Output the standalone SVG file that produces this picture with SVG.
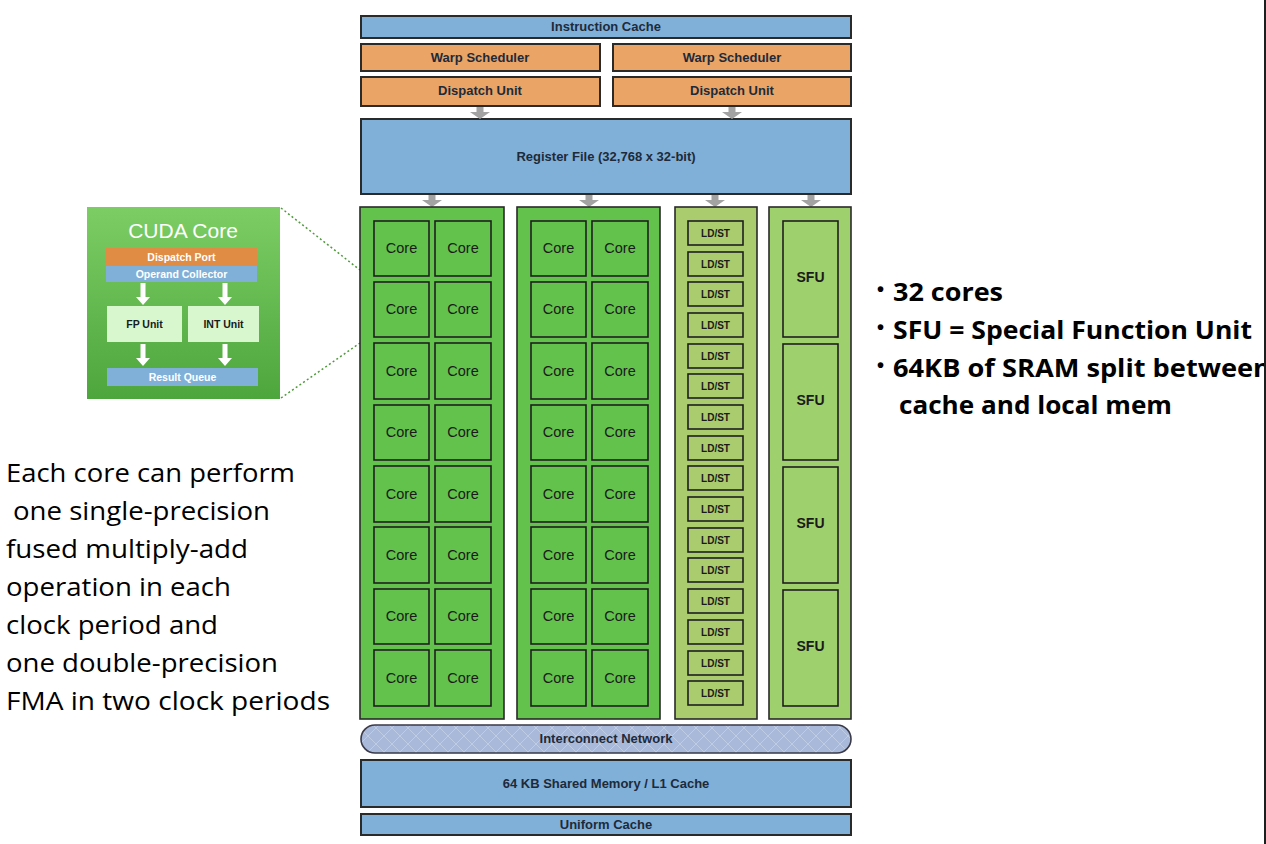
<svg xmlns="http://www.w3.org/2000/svg" width="1266" height="844" viewBox="0 0 1266 844">
<defs>
<style>
.blue{fill:#80b0d8;stroke:#2a2a2a;stroke-width:2}
.orange{fill:#e9a466;stroke:#2a2a2a;stroke-width:2}
.col{fill:#63c24c;stroke:#2a2a2a;stroke-width:1.6}
.core{fill:#63c24c;stroke:#1e1e1e;stroke-width:1.6}
.ldcol{fill:#aacb6e;stroke:#2a2a2a;stroke-width:1.6}
.sfucol{fill:#9fd06e;stroke:#2a2a2a;stroke-width:1.6}
.lbl{font-family:"Liberation Sans",Arial,sans-serif;font-weight:bold;font-size:13px;fill:#1e2a3a;text-anchor:middle}
.ct{font-family:"Liberation Sans",Arial,sans-serif;font-size:14.5px;fill:#1a1a1a;text-anchor:middle}
.ld{font-family:"Liberation Sans",Arial,sans-serif;font-weight:bold;font-size:10px;fill:#1a1a1a;text-anchor:middle}
.sfu{font-family:"Liberation Sans",Arial,sans-serif;font-weight:bold;font-size:14px;fill:#1a1a1a;text-anchor:middle}
.garrow{fill:#a3a3a3}
.warrow{fill:#ffffff}
.note{font-family:"Open Sans","Liberation Sans",sans-serif;font-size:26px;fill:#000}
.bul{font-family:"Open Sans","Liberation Sans",sans-serif;font-weight:bold;font-size:25px;fill:#000}
.dot{font-family:"Liberation Sans",sans-serif;font-weight:bold;font-size:20px;fill:#000}
.inset{font-family:"Liberation Sans",Arial,sans-serif;font-weight:bold;font-size:10.5px;text-anchor:middle}
</style>
<linearGradient id="cudaGrad" x1="0" y1="0" x2="0" y2="1">
<stop offset="0" stop-color="#7ccd64"/>
<stop offset="1" stop-color="#4da63c"/>
</linearGradient>
<pattern id="mesh" width="16" height="16" patternUnits="userSpaceOnUse">
<rect width="16" height="16" fill="#a9b9d9"/>
<path d="M0 0 L16 16 M16 0 L0 16" stroke="#c0cce3" stroke-width="1"/>
</pattern>
<g id="ga">
<polygon points="-3.5,0 3.5,0 3.5,5 10,5 0,12 -10,5 -3.5,5"/>
</g>
<g id="wa">
<polygon points="-2.5,0 2.5,0 2.5,14 7,14 0,22 -7,14 -2.5,14"/>
</g>
</defs>
<rect width="1266" height="844" fill="#ffffff"/>

<g id="instruction-cache">
<rect class="blue" x="361" y="16" width="490" height="22"/>
<text class="lbl" x="606" y="31">Instruction Cache</text>
</g>
<g id="warp-scheduler-1">
<rect class="orange" x="361" y="44" width="239" height="27"/>
<text class="lbl" x="480" y="62">Warp Scheduler</text>
</g>
<g id="warp-scheduler-2">
<rect class="orange" x="613" y="44" width="238" height="27"/>
<text class="lbl" x="732" y="62">Warp Scheduler</text>
</g>
<g id="dispatch-unit-1">
<rect class="orange" x="361" y="77" width="239" height="29"/>
<text class="lbl" x="480" y="95">Dispatch Unit</text>
</g>
<g id="dispatch-unit-2">
<rect class="orange" x="613" y="77" width="238" height="29"/>
<text class="lbl" x="732" y="95">Dispatch Unit</text>
</g>
<g id="register-file">
<rect class="blue" x="361" y="119" width="490" height="75"/>
<text class="lbl" x="606" y="161">Register File (32,768 x 32-bit)</text>
</g>

<g id="connectors">
<use href="#ga" class="garrow" x="480" y="107"/>
<use href="#ga" class="garrow" x="732" y="107"/>
<use href="#ga" class="garrow" x="432" y="195"/>
<use href="#ga" class="garrow" x="589" y="195"/>
<use href="#ga" class="garrow" x="715" y="195"/>
<use href="#ga" class="garrow" x="811" y="195"/>
<line x1="281" y1="208" x2="360" y2="270" stroke="#4f9a3c" stroke-width="1.5" stroke-dasharray="2,2.5"/>
<line x1="281" y1="398" x2="360" y2="343" stroke="#4f9a3c" stroke-width="1.5" stroke-dasharray="2,2.5"/>
</g>

<g id="core-column-1">
<rect class="col" x="360" y="207" width="144" height="512"/>
<rect class="core" x="374" y="221" width="55" height="55"/><rect class="core" x="435" y="221" width="56" height="55"/>
<rect class="core" x="374" y="282" width="55" height="55"/><rect class="core" x="435" y="282" width="56" height="55"/>
<rect class="core" x="374" y="343" width="55" height="56"/><rect class="core" x="435" y="343" width="56" height="56"/>
<rect class="core" x="374" y="405" width="55" height="55"/><rect class="core" x="435" y="405" width="56" height="55"/>
<rect class="core" x="374" y="466" width="55" height="56"/><rect class="core" x="435" y="466" width="56" height="56"/>
<rect class="core" x="374" y="527" width="55" height="56"/><rect class="core" x="435" y="527" width="56" height="56"/>
<rect class="core" x="374" y="589" width="55" height="55"/><rect class="core" x="435" y="589" width="56" height="55"/>
<rect class="core" x="374" y="650" width="55" height="56"/><rect class="core" x="435" y="650" width="56" height="56"/>
<text class="ct" x="401.5" y="253">Core</text><text class="ct" x="463" y="253">Core</text>
<text class="ct" x="401.5" y="314">Core</text><text class="ct" x="463" y="314">Core</text>
<text class="ct" x="401.5" y="376">Core</text><text class="ct" x="463" y="376">Core</text>
<text class="ct" x="401.5" y="437">Core</text><text class="ct" x="463" y="437">Core</text>
<text class="ct" x="401.5" y="499">Core</text><text class="ct" x="463" y="499">Core</text>
<text class="ct" x="401.5" y="560">Core</text><text class="ct" x="463" y="560">Core</text>
<text class="ct" x="401.5" y="621">Core</text><text class="ct" x="463" y="621">Core</text>
<text class="ct" x="401.5" y="683">Core</text><text class="ct" x="463" y="683">Core</text>
</g>

<g id="core-column-2">
<rect class="col" x="517" y="207" width="143" height="512"/>
<rect class="core" x="531" y="221" width="55" height="55"/><rect class="core" x="592" y="221" width="56" height="55"/>
<rect class="core" x="531" y="282" width="55" height="55"/><rect class="core" x="592" y="282" width="56" height="55"/>
<rect class="core" x="531" y="343" width="55" height="56"/><rect class="core" x="592" y="343" width="56" height="56"/>
<rect class="core" x="531" y="405" width="55" height="55"/><rect class="core" x="592" y="405" width="56" height="55"/>
<rect class="core" x="531" y="466" width="55" height="56"/><rect class="core" x="592" y="466" width="56" height="56"/>
<rect class="core" x="531" y="527" width="55" height="56"/><rect class="core" x="592" y="527" width="56" height="56"/>
<rect class="core" x="531" y="589" width="55" height="55"/><rect class="core" x="592" y="589" width="56" height="55"/>
<rect class="core" x="531" y="650" width="55" height="56"/><rect class="core" x="592" y="650" width="56" height="56"/>
<text class="ct" x="558.5" y="253">Core</text><text class="ct" x="620" y="253">Core</text>
<text class="ct" x="558.5" y="314">Core</text><text class="ct" x="620" y="314">Core</text>
<text class="ct" x="558.5" y="376">Core</text><text class="ct" x="620" y="376">Core</text>
<text class="ct" x="558.5" y="437">Core</text><text class="ct" x="620" y="437">Core</text>
<text class="ct" x="558.5" y="499">Core</text><text class="ct" x="620" y="499">Core</text>
<text class="ct" x="558.5" y="560">Core</text><text class="ct" x="620" y="560">Core</text>
<text class="ct" x="558.5" y="621">Core</text><text class="ct" x="620" y="621">Core</text>
<text class="ct" x="558.5" y="683">Core</text><text class="ct" x="620" y="683">Core</text>
</g>

<g id="ldst-column">
<rect class="ldcol" x="675" y="207" width="82" height="512"/>
<g fill="#aacb6e" stroke="#1e1e1e" stroke-width="1.6">
<rect x="688" y="221" width="55" height="24"/>
<rect x="688" y="252" width="55" height="24"/>
<rect x="688" y="282" width="55" height="24"/>
<rect x="688" y="313" width="55" height="24"/>
<rect x="688" y="344" width="55" height="24"/>
<rect x="688" y="374" width="55" height="24"/>
<rect x="688" y="405" width="55" height="24"/>
<rect x="688" y="436" width="55" height="24"/>
<rect x="688" y="466" width="55" height="24"/>
<rect x="688" y="497" width="55" height="24"/>
<rect x="688" y="528" width="55" height="24"/>
<rect x="688" y="558" width="55" height="24"/>
<rect x="688" y="589" width="55" height="24"/>
<rect x="688" y="620" width="55" height="24"/>
<rect x="688" y="651" width="55" height="24"/>
<rect x="688" y="681" width="55" height="24"/>
</g>
<text class="ld" x="715.5" y="237">LD/ST</text>
<text class="ld" x="715.5" y="268">LD/ST</text>
<text class="ld" x="715.5" y="298">LD/ST</text>
<text class="ld" x="715.5" y="329">LD/ST</text>
<text class="ld" x="715.5" y="360">LD/ST</text>
<text class="ld" x="715.5" y="390">LD/ST</text>
<text class="ld" x="715.5" y="421">LD/ST</text>
<text class="ld" x="715.5" y="452">LD/ST</text>
<text class="ld" x="715.5" y="482">LD/ST</text>
<text class="ld" x="715.5" y="513">LD/ST</text>
<text class="ld" x="715.5" y="544">LD/ST</text>
<text class="ld" x="715.5" y="574">LD/ST</text>
<text class="ld" x="715.5" y="605">LD/ST</text>
<text class="ld" x="715.5" y="636">LD/ST</text>
<text class="ld" x="715.5" y="667">LD/ST</text>
<text class="ld" x="715.5" y="697">LD/ST</text>
</g>

<g id="sfu-column">
<rect class="sfucol" x="769" y="207" width="82" height="512"/>
<g fill="#9fd06e" stroke="#1e1e1e" stroke-width="1.6">
<rect x="783" y="221" width="55" height="116"/>
<rect x="783" y="344" width="55" height="116"/>
<rect x="783" y="467" width="55" height="116"/>
<rect x="783" y="590" width="55" height="116"/>
</g>
<text class="sfu" x="810.5" y="282">SFU</text>
<text class="sfu" x="810.5" y="405">SFU</text>
<text class="sfu" x="810.5" y="528">SFU</text>
<text class="sfu" x="810.5" y="651">SFU</text>
</g>

<g id="interconnect-network">
<rect x="361" y="725" width="490" height="28" rx="14" ry="14" fill="url(#mesh)" stroke="#3a3a48" stroke-width="1.6"/>
<text class="lbl" x="606" y="743">Interconnect Network</text>
</g>
<g id="shared-memory">
<rect class="blue" x="361" y="760" width="490" height="47"/>
<text class="lbl" x="606" y="788">64 KB Shared Memory / L1 Cache</text>
</g>
<g id="uniform-cache">
<rect class="blue" x="361" y="814" width="490" height="21"/>
<text class="lbl" x="606" y="829">Uniform Cache</text>
</g>

<g id="cuda-core-inset">
<rect x="87" y="207" width="193" height="192" fill="url(#cudaGrad)"/>
<text x="183" y="238" font-family="'Liberation Sans',Arial,sans-serif" font-size="21" fill="#ffffff" text-anchor="middle">CUDA Core</text>
<rect x="106" y="248" width="151" height="18" fill="#e08c44"/>
<text class="inset" x="181.5" y="261" fill="#ffffff">Dispatch Port</text>
<rect x="106" y="266" width="151" height="16" fill="#80b0d8"/>
<text class="inset" x="181.5" y="278" fill="#ffffff">Operand Collector</text>
<use href="#wa" class="warrow" x="143" y="283"/>
<use href="#wa" class="warrow" x="225" y="283"/>
<rect x="107" y="306" width="75" height="36" fill="#d8f7cf"/>
<text class="inset" x="144.5" y="328" fill="#1a1a1a">FP Unit</text>
<rect x="188" y="306" width="71" height="36" fill="#d8f7cf"/>
<text class="inset" x="223.5" y="328" fill="#1a1a1a">INT Unit</text>
<use href="#wa" class="warrow" x="143" y="344"/>
<use href="#wa" class="warrow" x="225" y="344"/>
<rect x="107" y="368" width="151" height="18" fill="#80b0d8"/>
<text class="inset" x="182.5" y="381" fill="#ffffff">Result Queue</text>
</g>

<g id="left-note">
<text class="note" x="6" y="482" textLength="289" lengthAdjust="spacingAndGlyphs">Each core can perform</text>
<text class="note" x="13" y="520" textLength="257" lengthAdjust="spacingAndGlyphs">one single-precision</text>
<text class="note" x="6" y="558" textLength="242" lengthAdjust="spacingAndGlyphs">fused multiply-add</text>
<text class="note" x="6" y="596" textLength="225" lengthAdjust="spacingAndGlyphs">operation in each</text>
<text class="note" x="6" y="634" textLength="212" lengthAdjust="spacingAndGlyphs">clock period and</text>
<text class="note" x="6" y="672" textLength="272" lengthAdjust="spacingAndGlyphs">one double-precision</text>
<text class="note" x="6" y="710" textLength="324" lengthAdjust="spacingAndGlyphs">FMA in two clock periods</text>
</g>

<g id="right-bullets">
<text class="dot" x="877" y="296">•</text>
<text class="bul" x="893" y="301" textLength="110" lengthAdjust="spacingAndGlyphs">32 cores</text>
<text class="dot" x="877" y="334">•</text>
<text class="bul" x="893" y="339" textLength="359" lengthAdjust="spacingAndGlyphs">SFU = Special Function Unit</text>
<text class="dot" x="877" y="372">•</text>
<text class="bul" x="893" y="377" textLength="378" lengthAdjust="spacingAndGlyphs">64KB of SRAM split between</text>
<text class="bul" x="899" y="414" textLength="273" lengthAdjust="spacingAndGlyphs">cache and local mem</text>
</g>

<rect x="1264" y="0" width="2" height="844" fill="#1e1e1e"/>
</svg>
